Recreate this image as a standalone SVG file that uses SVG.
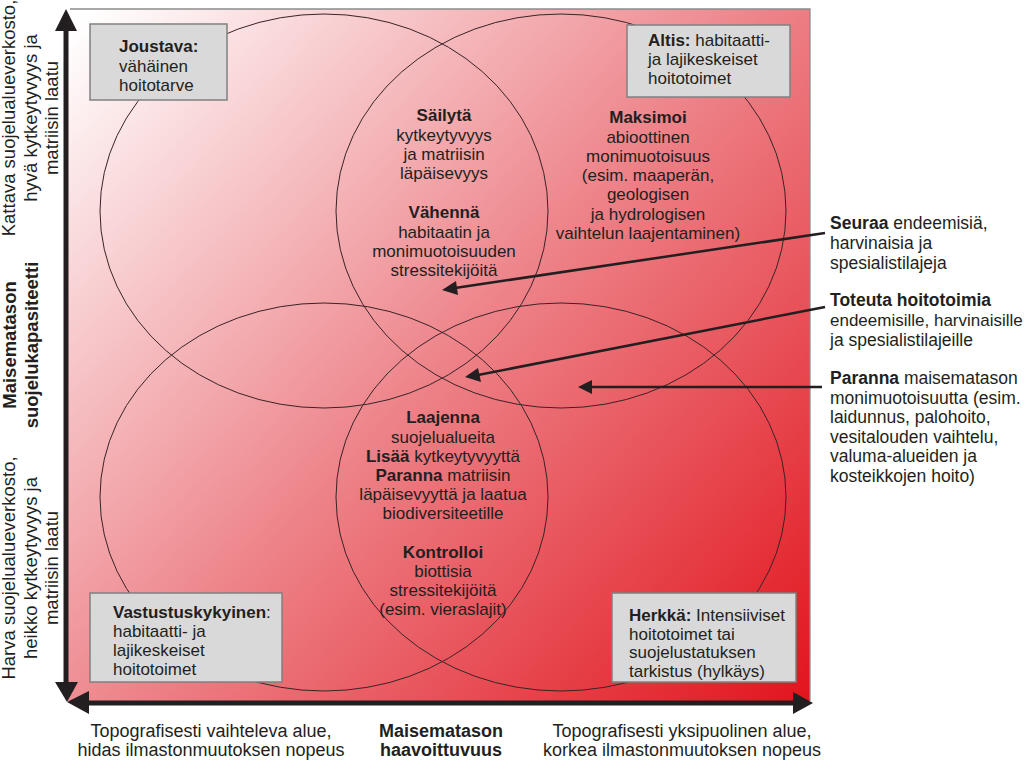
<svg xmlns="http://www.w3.org/2000/svg" width="1024" height="761" viewBox="0 0 1024 761">
<style>
text{font-family:"Liberation Sans",Arial,sans-serif;fill:#231f20}
.t17{font-size:17px}
.t18{font-size:18px}
.rt{font-size:17.5px}
.ax{font-size:18.5px}
.b{font-weight:bold}
.box{fill:#d9d9d9;stroke:#808080;stroke-width:1.5}
.ell{fill:none;stroke:#3a2326;stroke-width:1}
.arr{stroke:#231f20;stroke-width:2.5;fill:none}
.axis{stroke:#231f20;stroke-width:5;fill:none}
.head{fill:#231f20}
</style>
<defs>
<linearGradient id="bg" gradientUnits="userSpaceOnUse" x1="80" y1="20" x2="810" y2="700">
<stop offset="0" stop-color="#ffffff"/>
<stop offset="0.5" stop-color="#ed8389"/>
<stop offset="1" stop-color="#e2141d"/>
</linearGradient>
</defs>
<rect width="1024" height="761" fill="#ffffff"/>
<g id="background">
<rect x="66" y="9" width="744" height="692" fill="url(#bg)"/>
<path d="M70,9 H810 V701" fill="none" stroke="#8c8c8c" stroke-width="1.3"/>
</g>
<g id="ellipses">
<ellipse id="ell-tl" class="ell" cx="324" cy="211" rx="224" ry="197"/>
<ellipse id="ell-tr" class="ell" cx="561" cy="211" rx="225" ry="197"/>
<ellipse id="ell-bl" class="ell" cx="324" cy="497" rx="224" ry="194"/>
<ellipse id="ell-br" class="ell" cx="561" cy="497" rx="225" ry="194"/>
</g>
<g id="axes">
<line class="axis" x1="66" y1="26" x2="66" y2="686"/>
<line class="axis" x1="84" y1="703" x2="796" y2="703"/>
<polygon class="head" points="66,9 55,31 77,31"/>
<polygon class="head" points="67,702 55,682 78,682"/>
<polygon class="head" points="67,702 89,691 89,714"/>
<polygon class="head" points="813,703 793,692 793,714"/>
</g>
<g id="node-joustava">
<rect class="box" x="90" y="24" width="137" height="76"/>
<text class="t17" x="119" y="52"><tspan class="b">Joustava:</tspan><tspan x="119" dy="19.5">vähäinen</tspan><tspan x="119" dy="19.5">hoitotarve</tspan></text>
</g>
<g id="node-altis">
<rect class="box" x="627" y="25" width="163" height="72"/>
<text class="t17" x="648" y="46"><tspan class="b">Altis:</tspan> habitaatti-<tspan x="648" dy="19">ja lajikeskeiset</tspan><tspan x="648" dy="19">hoitotoimet</tspan></text>
</g>
<g id="node-vastustuskykyinen">
<rect class="box" x="90" y="593" width="192" height="89"/>
<text class="t17" x="113" y="618"><tspan class="b">Vastustuskykyinen</tspan>:<tspan x="113" dy="19">habitaatti- ja</tspan><tspan x="113" dy="19">lajikeskeiset</tspan><tspan x="113" dy="19">hoitotoimet</tspan></text>
</g>
<g id="node-herkka">
<rect class="box" x="612" y="593" width="184" height="89"/>
<text class="t17" x="629" y="621"><tspan class="b">Herkkä:</tspan> Intensiiviset<tspan x="629" dy="18.5">hoitotoimet tai</tspan><tspan x="629" dy="18.5">suojelustatuksen</tspan><tspan x="629" dy="18.5">tarkistus (hylkäys)</tspan></text>
</g>
<g id="node-sailyta">
<text class="t17" text-anchor="middle" x="444" y="121"><tspan class="b">Säilytä</tspan><tspan x="444" dy="19.5">kytkeytyvyys</tspan><tspan x="444" dy="19">ja matriisin</tspan><tspan x="444" dy="19.5">läpäisevyys</tspan><tspan x="444" dy="39" class="b">Vähennä</tspan><tspan x="444" dy="19.5">habitaatin ja</tspan><tspan x="444" dy="19">monimuotoisuuden</tspan><tspan x="444" dy="19">stressitekijöitä</tspan></text>
</g>
<g id="node-maksimoi">
<text class="t17" text-anchor="middle" x="648" y="123"><tspan class="b">Maksimoi</tspan><tspan x="648" dy="19.5">abioottinen</tspan><tspan x="648" dy="19">monimuotoisuus</tspan><tspan x="648" dy="19.5">(esim. maaperän,</tspan><tspan x="648" dy="19">geologisen</tspan><tspan x="648" dy="19.5">ja hydrologisen</tspan><tspan x="648" dy="19">vaihtelun laajentaminen)</tspan></text>
</g>
<g id="node-laajenna">
<text class="t17" text-anchor="middle" x="443" y="423"><tspan class="b">Laajenna</tspan><tspan x="443" dy="19.5">suojelualueita</tspan><tspan x="443" dy="19"><tspan class="b">Lisää</tspan> kytkeytyvyyttä</tspan><tspan x="443" dy="19.5"><tspan class="b">Paranna</tspan> matriisin</tspan><tspan x="443" dy="19">läpäisevyyttä ja laatua</tspan><tspan x="443" dy="19">biodiversiteetille</tspan><tspan x="443" dy="38.5" class="b">Kontrolloi</tspan><tspan x="443" dy="19">biottisia</tspan><tspan x="443" dy="19">stressitekijöitä</tspan><tspan x="443" dy="19">(esim. vieraslajit)</tspan></text>
</g>
<g id="node-seuraa">
<text class="rt" x="830" y="229"><tspan class="b">Seuraa</tspan> endeemisiä,<tspan x="830" dy="20">harvinaisia ja</tspan><tspan x="830" dy="20">spesialistilajeja</tspan></text>
</g>
<g id="node-toteuta">
<text class="rt" x="830" y="306"><tspan class="b">Toteuta hoitotoimia</tspan></text>
<text class="t17" x="830" y="326">endeemisille, harvinaisille</text>
<text class="rt" x="830" y="345.5">ja spesialistilajeille</text>
</g>
<g id="node-paranna">
<text class="rt" x="830" y="384"><tspan class="b">Paranna</tspan> maisematason<tspan x="830" dy="19.6">monimuotoisuutta (esim.</tspan><tspan x="830" dy="19.6">laidunnus, palohoito,</tspan><tspan x="830" dy="19.6">vesitalouden vaihtelu,</tspan><tspan x="830" dy="19.6">valuma-alueiden ja</tspan><tspan x="830" dy="19.6">kosteikkojen hoito)</tspan></text>
</g>
<g id="connectors">
<line class="arr" x1="825" y1="233" x2="455" y2="288"/>
<polygon class="head" points="442,290 456,281 458,295"/>
<line class="arr" x1="825" y1="307" x2="478" y2="375"/>
<polygon class="head" points="465,377 478,368 481,382"/>
<line class="arr" x1="822" y1="387" x2="592" y2="387"/>
<polygon class="head" points="578,387 592,380 592,394"/>
</g>
<g id="label-y-top">
<text class="ax" text-anchor="middle" transform="translate(15,118) rotate(-90)"><tspan x="0" y="0">Kattava suojelualueverkosto,</tspan><tspan x="0" dy="21.5">hyvä kytkeytyvyys ja</tspan><tspan x="0" dy="21.5">matriisin laatu</tspan></text>
</g>
<g id="label-y-mid">
<text class="ax b" text-anchor="middle" transform="translate(16,345) rotate(-90)"><tspan x="0" y="0">Maisematason</tspan><tspan x="0" dy="21.5">suojelukapasiteetti</tspan></text>
</g>
<g id="label-y-bottom">
<text class="ax" text-anchor="middle" transform="translate(15,568) rotate(-90)"><tspan x="0" y="0">Harva suojelualueverkosto,</tspan><tspan x="0" dy="21.5">heikko kytkeytyvyys ja</tspan><tspan x="0" dy="21.5">matriisin laatu</tspan></text>
</g>
<g id="label-x">
<text class="t18" text-anchor="middle" x="211" y="737">Topografisesti vaihteleva alue,<tspan x="211" dy="19">hidas ilmastonmuutoksen nopeus</tspan></text>
<text class="t18 b" text-anchor="middle" x="441" y="737">Maisematason<tspan x="441" dy="19">haavoittuvuus</tspan></text>
<text class="t18" text-anchor="middle" x="682" y="737">Topografisesti yksipuolinen alue,<tspan x="682" dy="19">korkea ilmastonmuutoksen nopeus</tspan></text>
</g>
</svg>
